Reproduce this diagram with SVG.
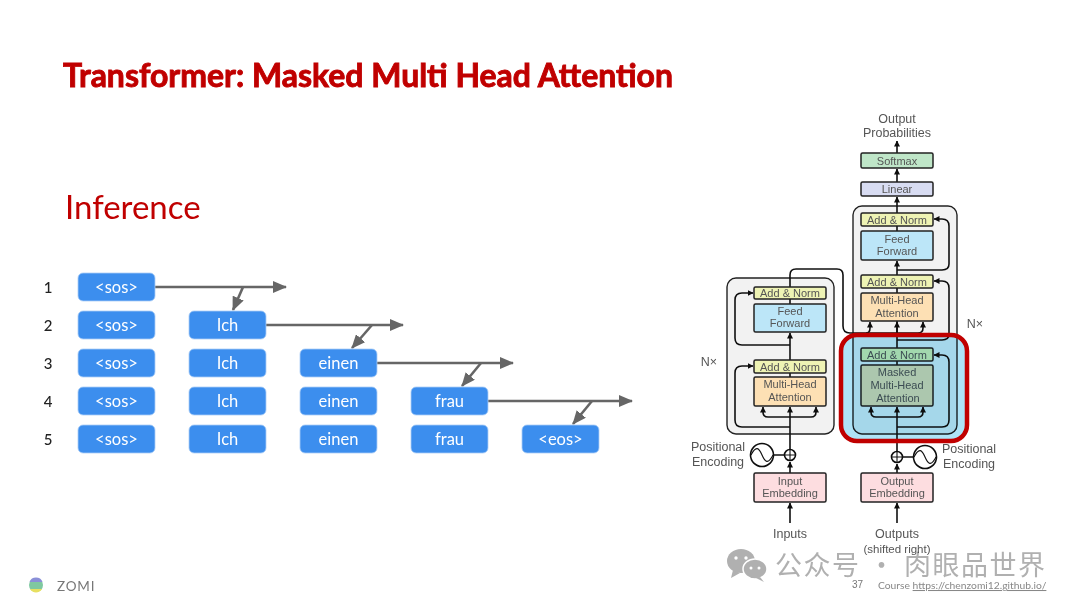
<svg xmlns="http://www.w3.org/2000/svg" width="1080" height="608" viewBox="0 0 1080 608">
<style>
text{font-family:"Liberation Sans",Arial,sans-serif}
.t{fill:#fff;font-family:Lato,"Liberation Sans",sans-serif;font-size:16.500px;text-anchor:middle}
.b{fill:#3c8eee;stroke:#a9cdf6;stroke-width:.8}
.n{fill:#222;font-family:Lato,sans-serif;font-size:15px;font-weight:500;text-anchor:middle}
.g{stroke:#666;stroke-width:2.6;fill:none}
.k{fill:none;stroke:#111;stroke-width:1.6}
.tf{fill:#555;font-size:11px;text-anchor:middle}
.l{fill:#555;font-size:12.500px;text-anchor:middle}
.box{stroke:#222;stroke-width:1.500}
.yl{fill:#eef3b4}.bl{fill:#bce6f8}.or{fill:#fde0b4}.pk{fill:#fddde0}
.out{fill:#f2f2f2;stroke:#222;stroke-width:1.400}
</style>
<defs>
<marker id="ga" viewBox="0 0 14 12" refX="13" refY="6" markerWidth="14" markerHeight="12" markerUnits="userSpaceOnUse" orient="auto"><path d="M0 0L14 6L0 12Z" fill="#666"/></marker>
<marker id="ka" viewBox="0 0 6 6" refX="5.500" refY="3" markerWidth="6" markerHeight="6" markerUnits="userSpaceOnUse" orient="auto"><path d="M0 0L6 3L0 6Z" fill="#111"/></marker>
<filter id="soft" filterUnits="userSpaceOnUse" x="680" y="100" width="330" height="470"><feGaussianBlur stdDeviation="0.4"/></filter>
</defs>
<rect width="1080" height="608" fill="#fff"/>
<text x="63" y="87" font-size="32.500" font-weight="700" fill="#c00000" stroke="#c00000" stroke-width=".9" style="font-family:Lato,sans-serif" textLength="610" lengthAdjust="spacingAndGlyphs">Transformer: Masked Multi Head Attention</text>
<text x="65" y="219" font-size="33" fill="#c00000" style="font-family:Lato,sans-serif">Inference</text>

<g id="row-numbers">
<text class="n" x="48" y="293">1</text><text class="n" x="48" y="331">2</text><text class="n" x="48" y="369">3</text><text class="n" x="48" y="407">4</text><text class="n" x="48" y="445">5</text>
</g>
<g id="connectors-left">
<path class="g" marker-end="url(#ga)" d="M155 287H286"/>
<path class="g" marker-end="url(#ga)" d="M243 287L233 310"/>
<path class="g" marker-end="url(#ga)" d="M266 325H403"/>
<path class="g" marker-end="url(#ga)" d="M372 325L352 348"/>
<path class="g" marker-end="url(#ga)" d="M377 363H513"/>
<path class="g" marker-end="url(#ga)" d="M481 363L462 386"/>
<path class="g" marker-end="url(#ga)" d="M488 401H632"/>
<path class="g" marker-end="url(#ga)" d="M592 401L573 424"/>
</g>
<g id="tokens">
<g id="r1c1"><rect class="b" x="78" y="273" width="77" height="28" rx="5"/><text class="t" x="116.500" y="293">&lt;sos&gt;</text></g>
<g id="r2c1"><rect class="b" x="78" y="311" width="77" height="28" rx="5"/><text class="t" x="116.500" y="331">&lt;sos&gt;</text></g>
<g id="r2c2"><rect class="b" x="189" y="311" width="77" height="28" rx="5"/><text class="t" x="227.500" y="331">Ich</text></g>
<g id="r3c1"><rect class="b" x="78" y="349" width="77" height="28" rx="5"/><text class="t" x="116.500" y="369">&lt;sos&gt;</text></g>
<g id="r3c2"><rect class="b" x="189" y="349" width="77" height="28" rx="5"/><text class="t" x="227.500" y="369">Ich</text></g>
<g id="r3c3"><rect class="b" x="300" y="349" width="77" height="28" rx="5"/><text class="t" x="338.500" y="369">einen</text></g>
<g id="r4c1"><rect class="b" x="78" y="387" width="77" height="28" rx="5"/><text class="t" x="116.500" y="407">&lt;sos&gt;</text></g>
<g id="r4c2"><rect class="b" x="189" y="387" width="77" height="28" rx="5"/><text class="t" x="227.500" y="407">Ich</text></g>
<g id="r4c3"><rect class="b" x="300" y="387" width="77" height="28" rx="5"/><text class="t" x="338.500" y="407">einen</text></g>
<g id="r4c4"><rect class="b" x="411" y="387" width="77" height="28" rx="5"/><text class="t" x="449.500" y="407">frau</text></g>
<g id="r5c1"><rect class="b" x="78" y="425" width="77" height="28" rx="5"/><text class="t" x="116.500" y="445">&lt;sos&gt;</text></g>
<g id="r5c2"><rect class="b" x="189" y="425" width="77" height="28" rx="5"/><text class="t" x="227.500" y="445">Ich</text></g>
<g id="r5c3"><rect class="b" x="300" y="425" width="77" height="28" rx="5"/><text class="t" x="338.500" y="445">einen</text></g>
<g id="r5c4"><rect class="b" x="411" y="425" width="77" height="28" rx="5"/><text class="t" x="449.500" y="445">frau</text></g>
<g id="r5c5"><rect class="b" x="522" y="425" width="77" height="28" rx="5"/><text class="t" x="560.500" y="445">&lt;eos&gt;</text></g>
</g>

<g id="transformer" filter="url(#soft)">
<g id="encoder-stack"><rect class="out" x="727" y="278" width="107" height="156" rx="9"/></g>
<g id="decoder-stack"><rect class="out" x="853" y="206" width="104" height="228" rx="9"/></g>

<g id="connectors-right">
<path class="k" marker-end="url(#ka)" d="M790 523V503"/>
<path class="k" marker-end="url(#ka)" d="M790 473V462"/>
<path class="k" marker-end="url(#ka)" d="M790 449V407"/>
<path class="k" d="M790 377V373M790 304V299"/>
<path class="k" marker-end="url(#ka)" d="M790 360V333"/>
<path class="k" d="M790 287V275Q790 269 796 269H837Q843 269 843 275V326Q843 333 850 333H897"/>
<path class="k" marker-end="url(#ka)" d="M790 417H768Q763 417 763 412V407"/>
<path class="k" marker-end="url(#ka)" d="M790 417H811Q816 417 816 412V407"/>
<path class="k" marker-end="url(#ka)" d="M790 427H742Q735 427 735 420V373Q735 366 742 366H753"/>
<path class="k" marker-end="url(#ka)" d="M790 345H742Q735 345 735 338V300Q735 293 742 293H753"/>
<path class="k" marker-end="url(#ka)" d="M897 523V503"/>
<path class="k" marker-end="url(#ka)" d="M897 473V464"/>
<path class="k" marker-end="url(#ka)" d="M897 451V407"/>
<path class="k" marker-end="url(#ka)" d="M897 417H876Q871 417 871 412V407"/>
<path class="k" marker-end="url(#ka)" d="M897 417H918Q923 417 923 412V407"/>
<path class="k" marker-end="url(#ka)" d="M897 427H942Q949 427 949 420V362Q949 355 942 355H934"/>
<path class="k" d="M897 365V361M897 348V321M897 293V288"/>
<path class="k" marker-end="url(#ka)" d="M866 333Q870 333 870 328V322"/>
<path class="k" marker-end="url(#ka)" d="M897 333V322"/>
<path class="k" marker-end="url(#ka)" d="M897 333H918Q923 333 923 328V322"/>
<path class="k" marker-end="url(#ka)" d="M897 340H942Q949 340 949 334V288Q949 281 942 281H934"/>
<path class="k" marker-end="url(#ka)" d="M897 270H942Q949 270 949 264V226Q949 219 942 219H934"/>
<path class="k" marker-end="url(#ka)" d="M897 275V261"/>
<path class="k" d="M897 231V226"/>
<path class="k" marker-end="url(#ka)" d="M897 213V197"/>
<path class="k" marker-end="url(#ka)" d="M897 182V169"/>
<path class="k" marker-end="url(#ka)" d="M897 153V141"/>
<path class="k" d="M774 455H785M913 457H902"/>
</g>

<g id="add-norm-dec-top"><rect class="box yl" x="861" y="213" width="72" height="13" rx="1.500"/><text class="tf" x="897" y="223.500">Add &amp; Norm</text></g>
<g id="feed-forward-dec"><rect class="box bl" x="861" y="231" width="72" height="29" rx="1.500"/><text class="tf" x="897" y="242.500">Feed</text><text class="tf" x="897" y="255">Forward</text></g>
<g id="add-norm-dec-mid"><rect class="box yl" x="861" y="275" width="72" height="13" rx="1.500"/><text class="tf" x="897" y="285.500">Add &amp; Norm</text></g>
<g id="mha-dec"><rect class="box or" x="861" y="293" width="72" height="28" rx="1.500"/><text class="tf" x="897" y="304">Multi-Head</text><text class="tf" x="897" y="317">Attention</text></g>
<g id="softmax"><rect class="box" fill="#bfe6c8" x="861" y="153" width="72" height="15" rx="1.500"/><text class="tf" x="897" y="164.500">Softmax</text></g>
<g id="linear"><rect class="box" fill="#d8dcf2" x="861" y="182" width="72" height="14" rx="1.500"/><text class="tf" x="897" y="192.500">Linear</text></g>
<g id="add-norm-enc-top"><rect class="box yl" x="754" y="287" width="72" height="12" rx="1.500"/><text class="tf" x="790" y="297">Add &amp; Norm</text></g>
<g id="feed-forward-enc"><rect class="box bl" x="754" y="304" width="72" height="28" rx="1.500"/><text class="tf" x="790" y="315">Feed</text><text class="tf" x="790" y="327">Forward</text></g>
<g id="add-norm-enc"><rect class="box yl" x="754" y="360" width="72" height="13" rx="1.500"/><text class="tf" x="790" y="370.500">Add &amp; Norm</text></g>
<g id="mha-enc"><rect class="box or" x="754" y="377" width="72" height="29" rx="1.500"/><text class="tf" x="790" y="388">Multi-Head</text><text class="tf" x="790" y="401">Attention</text></g>
<g id="add-norm-masked"><rect class="box yl" x="861" y="348" width="72" height="13" rx="1.500"/><text class="tf" x="897" y="358.500">Add &amp; Norm</text></g>
<g id="masked-mha"><rect class="box or" x="861" y="365" width="72" height="41" rx="1.500"/><text class="tf" x="897" y="376">Masked</text><text class="tf" x="897" y="389">Multi-Head</text><text class="tf" x="898" y="402">Attention</text></g>
<g id="input-embedding"><rect class="box pk" x="754" y="473" width="72" height="29" rx="1.500"/><text class="tf" x="790" y="485">Input</text><text class="tf" x="790" y="497">Embedding</text></g>
<g id="output-embedding"><rect class="box pk" x="861" y="473" width="72" height="29" rx="1.500"/><text class="tf" x="897" y="485">Output</text><text class="tf" x="897" y="497">Embedding</text></g>

<g id="pos-enc-left"><circle class="k" cx="762" cy="455" r="11.500"/><path class="k" stroke-width="1.100" style="stroke-width:1.100" d="M751 455C756 445 759 448 762 455S768 465 773 455"/><circle class="k" cx="790" cy="455" r="5.500"/><path class="k" style="stroke-width:1.100" d="M784.500 455H795.500M790 449.500V460.500"/></g>
<g id="pos-enc-right"><circle class="k" cx="925" cy="457" r="11.500"/><path class="k" style="stroke-width:1.100" d="M914 457C919 447 922 450 925 457S931 467 936 457"/><circle class="k" cx="897" cy="457" r="5.500"/><path class="k" style="stroke-width:1.100" d="M891.500 457H902.500M897 451.500V462.500"/></g>

<g id="labels">
<text class="l" x="897" y="123">Output</text><text class="l" x="897" y="137">Probabilities</text>
<text class="l" x="709" y="366">N×</text><text class="l" x="975" y="328">N×</text>
<text class="l" x="718" y="451">Positional</text><text class="l" x="718" y="466">Encoding</text>
<text class="l" x="969" y="453">Positional</text><text class="l" x="969" y="468">Encoding</text>
<text class="l" x="790" y="538">Inputs</text><text class="l" x="897" y="538">Outputs</text>
<text class="l" x="897" y="553" style="font-size:11.500px">(shifted right)</text>
</g>

<g id="highlight"><rect x="841" y="335" width="126" height="106" rx="16" fill="#aee3f7" style="mix-blend-mode:multiply"/><rect x="841" y="335" width="126" height="106" rx="16" fill="none" stroke="#c00000" stroke-width="4.500"/></g>
</g>

<g id="watermark" fill="#b0b0b0">
<ellipse cx="741" cy="561" rx="14" ry="12"/><path d="M733 570L731 578L740 573Z"/>
<ellipse cx="755" cy="569" rx="12" ry="10" stroke="#fff" stroke-width="1.500"/><path d="M760 577L764 582L756 578Z"/>
<circle cx="736" cy="558" r="1.700" fill="#fff"/><circle cx="746" cy="558" r="1.700" fill="#fff"/><circle cx="751" cy="568" r="1.500" fill="#fff"/><circle cx="759" cy="568" r="1.500" fill="#fff"/>
<text x="775" y="575" font-size="27" letter-spacing="1.500" fill="#b0b0b0" style="font-family:'Noto Sans CJK SC',sans-serif;mix-blend-mode:multiply">公众号 · 肉眼品世界</text>
</g>

<g id="footer">
<text x="852" y="588" font-size="10" fill="#777">37</text>
<text x="878" y="589" font-size="10.300" fill="#888" style="font-family:Lato,sans-serif">Course <tspan text-decoration="underline">https://chenzomi12.github.io/</tspan></text>
<circle cx="36" cy="585" r="7" fill="#7fc8a0"/><path d="M29.500 582a7 7 0 0 1 13 0Z" fill="#8a8fd8"/><path d="M30 589a7 7 0 0 0 12 0Z" fill="#e8e060"/>
<text x="57" y="591" font-size="13.500" letter-spacing=".8" fill="#777" style="font-family:Lato,sans-serif">ZOMI</text>
</g>
</svg>
